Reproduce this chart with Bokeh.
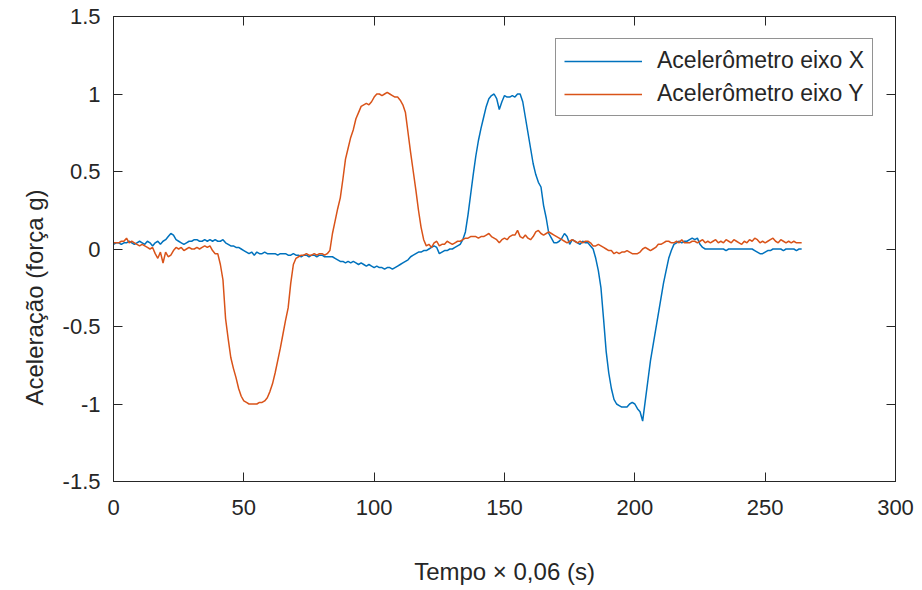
from bokeh.plotting import figure
from bokeh.models import Range1d, LinearAxis, Legend, LegendItem, FixedTicker, Title
from bokeh.embed import file_html
from bokeh.resources import INLINE

# Sample index (time x 0,06 s)
t = list(range(0, 265))

# Accelerometer X axis (g)
acc_x = [
    0.03, 0.04, 0.04, 0.03, 0.04, 0.04, 0.05, 0.04, 0.03, 0.04,
    0.05, 0.04, 0.03, 0.05, 0.04, 0.02, 0.04, 0.05, 0.03, 0.05,
    0.06, 0.08, 0.10, 0.09, 0.06, 0.05, 0.04, 0.03, 0.04, 0.05,
    0.05, 0.06, 0.06, 0.05, 0.05, 0.06, 0.05, 0.06, 0.05, 0.06,
    0.05, 0.05, 0.06, 0.04, 0.03, 0.02, 0.02, 0.01, 0.01, 0.00,
    -0.01, -0.02, -0.03, -0.02, -0.04, -0.02, -0.03, -0.03, -0.02, -0.03,
    -0.03, -0.03, -0.03, -0.04, -0.03, -0.03, -0.03, -0.04, -0.04, -0.03,
    -0.04, -0.04, -0.05, -0.04, -0.04, -0.05, -0.04, -0.04, -0.05, -0.04,
    -0.04, -0.05, -0.05, -0.05, -0.05, -0.06, -0.07, -0.08, -0.08, -0.09,
    -0.08, -0.09, -0.08, -0.09, -0.10, -0.09, -0.10, -0.11, -0.10, -0.11,
    -0.12, -0.11, -0.12, -0.12, -0.13, -0.12, -0.12, -0.13, -0.12, -0.11,
    -0.10, -0.09, -0.08, -0.07, -0.05, -0.04, -0.03, -0.02, -0.02, -0.01,
    -0.01, 0.00, 0.01, 0.02, 0.01, -0.03, -0.02, -0.01, -0.01, 0.00,
    0.00, 0.01, 0.02, 0.03, 0.06, 0.11, 0.22, 0.35, 0.48, 0.60,
    0.70, 0.78, 0.85, 0.92, 0.97, 0.99, 1.00, 0.97, 0.90, 0.95,
    0.99, 0.98, 0.98, 0.99, 0.98, 1.00, 1.00, 0.95, 0.85, 0.75,
    0.65, 0.55, 0.48, 0.43, 0.40, 0.28, 0.20, 0.10, 0.07, 0.04,
    0.04, 0.05, 0.07, 0.10, 0.08, 0.03, 0.06, 0.05, 0.04, 0.03,
    0.05, 0.04, 0.04, 0.02, 0.00, -0.06, -0.14, -0.25, -0.45, -0.66,
    -0.80, -0.90, -0.97, -1.00, -1.01, -1.02, -1.02, -1.02, -1.00, -0.99,
    -1.00, -1.03, -1.05, -1.11, -0.98, -0.85, -0.72, -0.62, -0.52, -0.42,
    -0.32, -0.22, -0.14, -0.06, -0.01, 0.03, 0.04, 0.05, 0.04, 0.05,
    0.05, 0.06, 0.07, 0.06, 0.07, 0.03, 0.01, 0.00, 0.00, 0.00,
    0.00, 0.00, 0.00, 0.00, 0.00, -0.01, 0.00, 0.00, 0.00, 0.00,
    0.00, 0.00, 0.00, 0.00, 0.00, 0.00, -0.01, -0.02, -0.03, -0.03,
    -0.02, -0.01, -0.01, 0.00, 0.00, 0.00, 0.00, -0.01, 0.00, 0.00,
    0.00, 0.00, -0.01, 0.00, 0.00,
]

# Accelerometer Y axis (g)
acc_y = [
    0.04, 0.04, 0.04, 0.05, 0.05, 0.07, 0.04, 0.05, 0.04, 0.03,
    0.02, 0.03, 0.02, 0.01, 0.00, 0.01, -0.03, -0.06, -0.02, -0.09,
    -0.02, -0.05, -0.04, -0.01, 0.01, 0.00, 0.01, -0.01, 0.00, 0.01,
    0.00, 0.00, 0.01, 0.00, 0.01, 0.02, 0.01, 0.02, -0.01, -0.03,
    -0.03, -0.10, -0.20, -0.45, -0.58, -0.70, -0.77, -0.83, -0.90, -0.95,
    -0.98, -0.99, -1.00, -1.00, -1.00, -1.00, -0.99, -0.99, -0.98, -0.96,
    -0.92, -0.87, -0.80, -0.72, -0.64, -0.55, -0.46, -0.38, -0.22, -0.10,
    -0.06, -0.05, -0.04, -0.04, -0.03, -0.04, -0.04, -0.03, -0.04, -0.03,
    -0.03, -0.04, -0.03, -0.01, 0.10, 0.18, 0.26, 0.33, 0.45, 0.58,
    0.65, 0.72, 0.77, 0.84, 0.88, 0.92, 0.93, 0.94, 0.93, 0.95,
    0.98, 1.00, 1.00, 0.99, 1.00, 1.01, 1.00, 0.99, 0.98, 0.98,
    0.96, 0.93, 0.88, 0.75, 0.62, 0.50, 0.38, 0.25, 0.14, 0.06,
    0.02, 0.03, 0.01, 0.04, 0.05, 0.02, 0.03, 0.03, 0.05, 0.04,
    0.03, 0.04, 0.05, 0.05, 0.06, 0.07, 0.07, 0.08, 0.08, 0.08,
    0.07, 0.08, 0.08, 0.09, 0.10, 0.08, 0.07, 0.06, 0.04, 0.06,
    0.07, 0.06, 0.08, 0.09, 0.09, 0.12, 0.08, 0.07, 0.09, 0.07,
    0.06, 0.08, 0.11, 0.12, 0.10, 0.09, 0.10, 0.11, 0.10, 0.09,
    0.08, 0.07, 0.06, 0.05, 0.04, 0.05, 0.06, 0.05, 0.04, 0.05,
    0.04, 0.05, 0.05, 0.04, 0.02, 0.02, 0.03, 0.02, 0.01, 0.00,
    -0.01, -0.01, -0.03, -0.02, -0.03, -0.02, -0.02, -0.01, -0.02, -0.03,
    -0.03, -0.03, -0.02, 0.00, 0.01, 0.00, -0.01, 0.00, 0.01, 0.03,
    0.03, 0.04, 0.05, 0.05, 0.04, 0.04, 0.05, 0.04, 0.06, 0.04,
    0.04, 0.04, 0.05, 0.05, 0.04, 0.05, 0.06, 0.04, 0.05, 0.04,
    0.05, 0.06, 0.04, 0.05, 0.04, 0.06, 0.05, 0.04, 0.06, 0.05,
    0.04, 0.03, 0.05, 0.04, 0.06, 0.05, 0.07, 0.06, 0.04, 0.05,
    0.04, 0.05, 0.06, 0.07, 0.05, 0.04, 0.06, 0.05, 0.04, 0.05,
    0.04, 0.05, 0.04, 0.04, 0.04,
]

x_ticks = [0, 50, 100, 150, 200, 250, 300]
y_ticks = [-1.5, -1, -0.5, 0, 0.5, 1, 1.5]
y_tick_labels = {-1.5: "-1.5", -1: "-1", -0.5: "-0.5", 0: "0", 0.5: "0.5", 1: "1", 1.5: "1.5"}
series_labels = ["Acelerômetro eixo X", "Acelerômetro eixo Y"]
x_label = "Tempo × 0,06 (s)"
y_label = "Aceleração (força g)"

BLUE = "#0072BD"
ORANGE = "#D95319"
INK = "#262626"
FONT = "Liberation Sans"

p = figure(width=922, height=590, output_backend="svg", toolbar_location=None,
           x_range=Range1d(0, 300), y_range=Range1d(-1.5, 1.5),
           x_axis_location=None, y_axis_location=None,
           min_border_left=113, min_border_right=27,
           min_border_top=16, min_border_bottom=109)
p.grid.visible = False
p.outline_line_color = INK
p.outline_line_width = 1
p.background_fill_color = "white"
p.border_fill_color = "white"

def style_axis(ax, show_labels):
    ax.axis_line_color = INK
    ax.major_tick_line_color = INK
    ax.major_tick_in = 9
    ax.major_tick_out = 0
    ax.minor_tick_line_color = None
    ax.major_label_text_font = FONT
    ax.major_label_text_font_size = "22px"
    ax.major_label_text_color = INK if show_labels else None
    ax.axis_label_text_font = FONT
    ax.axis_label_text_font_size = "24px"
    ax.axis_label_text_font_style = "normal"
    ax.axis_label_text_color = INK

xb = LinearAxis(ticker=FixedTicker(ticks=x_ticks), axis_label=x_label)
style_axis(xb, True)
xb.major_label_standoff = 18
xb.axis_label_standoff = 40
p.add_layout(xb, "below")

yl = LinearAxis(ticker=FixedTicker(ticks=y_ticks), major_label_overrides=y_tick_labels)
style_axis(yl, True)
yl.major_label_standoff = 13
p.add_layout(yl, "left")

xt = LinearAxis(ticker=FixedTicker(ticks=x_ticks))
style_axis(xt, False)
xt.major_label_standoff = 0
p.add_layout(xt, "above")

yr = LinearAxis(ticker=FixedTicker(ticks=y_ticks))
style_axis(yr, False)
yr.major_label_standoff = 0
p.add_layout(yr, "right")

yt_title = Title(text=y_label, align="left", offset=76, standoff=20,
                 vertical_align="top",
                 text_font=FONT, text_font_size="24px", text_font_style="normal",
                 text_color=INK)
p.add_layout(yt_title, "left")

rx = p.line(t, acc_x, line_color=BLUE, line_width=1.5)
ry = p.line(t, acc_y, line_color=ORANGE, line_width=1.5)

legend = Legend(items=[LegendItem(label=series_labels[0], renderers=[rx]),
                       LegendItem(label=series_labels[1], renderers=[ry])],
                location=(442, 365))
legend.label_text_font = FONT
legend.label_text_font_size = "23px"
legend.label_text_color = INK
legend.border_line_color = INK
legend.border_line_width = 1
legend.background_fill_color = "white"
legend.background_fill_alpha = 1
legend.glyph_width = 78
legend.glyph_height = 26
legend.label_height = 26
legend.label_standoff = 15
legend.padding = 8
legend.spacing = 6
legend.margin = 0
p.add_layout(legend, "center")

open("out.html", "w").write(file_html(p, INLINE))
